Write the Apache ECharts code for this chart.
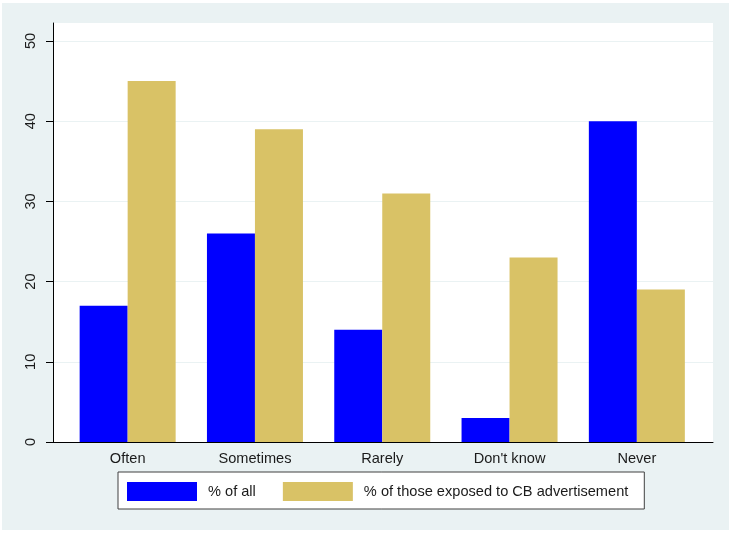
<!DOCTYPE html>
<html><head><meta charset="utf-8">
<script src="https://cdn.jsdelivr.net/npm/echarts@6/dist/echarts.min.js"></script>
<style>
html,body{margin:0;padding:0;background:#fff;}
#outer{position:absolute;left:2px;top:3px;width:727px;height:527px;background:#eaf2f3;}
#plotbg{position:absolute;left:53px;top:23px;width:660px;height:419px;background:#fff;}
#chart{position:absolute;left:0;top:0;width:731px;height:533px;}
</style></head>
<body>
<div id="outer"></div>
<div id="plotbg"></div>
<div id="chart"></div>
<script>
const categories = ['Often', 'Sometimes', 'Rarely', "Don't know", 'Never'];
const seriesNames = ['% of all', '% of those exposed to CB advertisement'];
const pctAll = [17, 26, 14, 3, 40];
const pctExposed = [45, 39, 31, 23, 19];
const yTicks = [0, 10, 20, 30, 40, 50];

const chart = echarts.init(document.getElementById('chart'), null, {renderer: 'canvas'});
const font = '"Liberation Sans", Arial, sans-serif';
const txt = '#1a1a1a';
const fs = 14.6;
chart.setOption({
  backgroundColor: 'transparent',
  animation: false,
  textStyle: {fontFamily: font},
  grid: [
    {left: 53, right: 18, top: 23, bottom: 91},
    {left: 53, right: 18, top: 41, bottom: 91},
    {left: 64, right: 30.5, top: 41, bottom: 91}
  ],
  xAxis: [
    {gridIndex: 0, type: 'category', data: categories, axisLine: {show: true, lineStyle: {color: '#000', width: 1}}, axisTick: {show: false}, axisLabel: {show: false}},
    {gridIndex: 1, type: 'category', data: categories, show: false},
    {gridIndex: 2, type: 'category', data: categories, axisLine: {show: false}, axisTick: {show: false},
      axisLabel: {color: txt, fontSize: fs, fontFamily: font, margin: 9}}
  ],
  yAxis: [
    {gridIndex: 0, type: 'value', min: 0, max: 52.24, axisLine: {show: true, lineStyle: {color: '#000', width: 1}}, axisTick: {show: false}, axisLabel: {show: false}, splitLine: {show: false}},
    {gridIndex: 1, type: 'value', min: yTicks[0], max: yTicks[yTicks.length - 1], interval: 10,
      axisLine: {show: true, lineStyle: {color: '#000', width: 1}}, axisTick: {show: true, length: 7, lineStyle: {color: '#000'}},
      axisLabel: {color: txt, fontSize: fs, fontFamily: font, rotate: 90, margin: 15},
      splitLine: {show: true, lineStyle: {color: '#eaf2f3', width: 1}}},
    {gridIndex: 2, type: 'value', min: 0, max: 50, show: false}
  ],
  legend: {
    left: 118, top: 472,
    data: seriesNames,
    itemWidth: 70, itemHeight: 19, itemGap: 27,
    padding: [10, 16, 8, 9],
    backgroundColor: '#fff', borderColor: '#404040', borderWidth: 1, borderRadius: 0,
    textStyle: {color: txt, fontSize: fs, fontFamily: font, padding: [0, 0, 0, 6]},
    icon: 'rect'
  },
  series: [
    {name: seriesNames[0], type: 'bar', xAxisIndex: 2, yAxisIndex: 2, data: pctAll, barWidth: 48, barGap: '0%',
      itemStyle: {color: '#0000ff'}},
    {name: seriesNames[1], type: 'bar', xAxisIndex: 2, yAxisIndex: 2, data: pctExposed, barWidth: 48, barGap: '0%',
      itemStyle: {color: '#d9c266'}}
  ]
});
</script>
</body></html>
